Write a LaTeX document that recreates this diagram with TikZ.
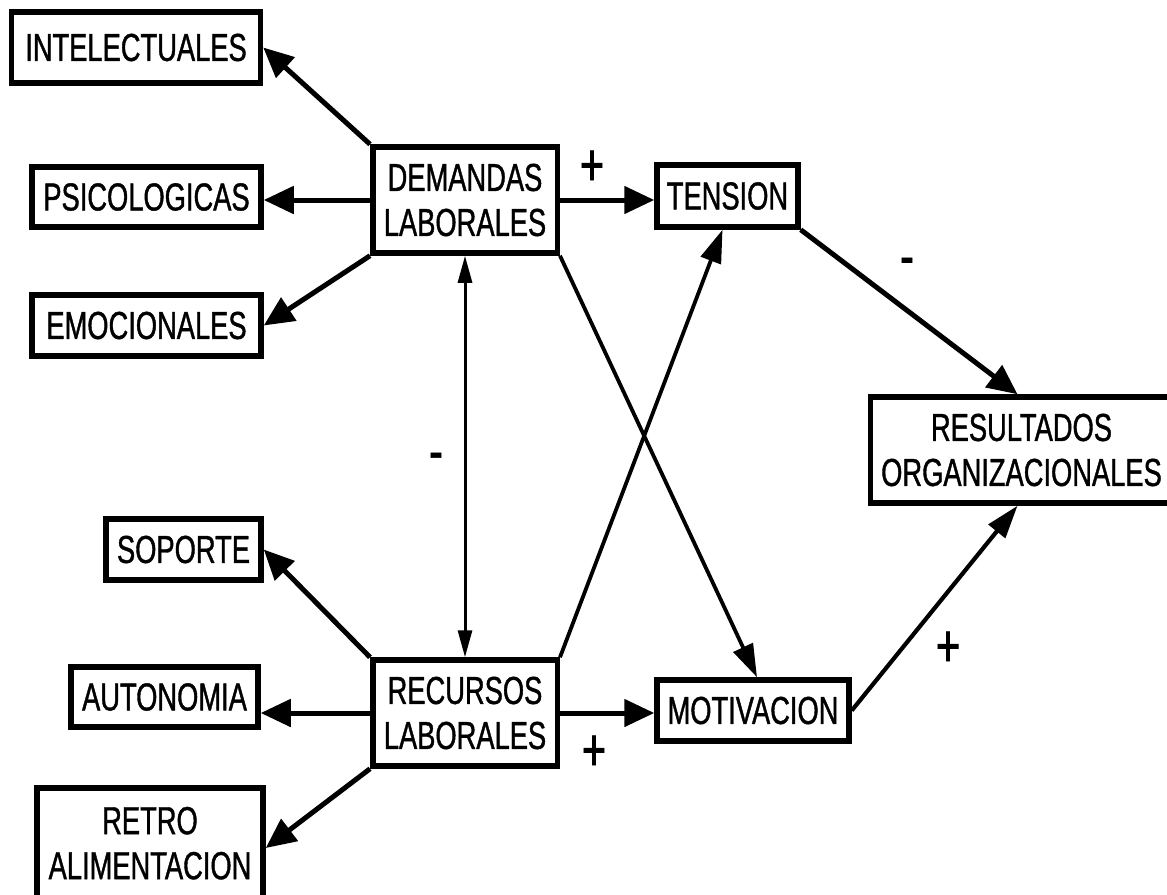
\documentclass[tikz,border=0pt]{standalone}
\usepackage{fontspec}
\setmainfont{Liberation Sans}[FakeStretch=0.70,FakeBold=1]
\usetikzlibrary{arrows.meta}
\begin{document}
\begin{tikzpicture}[x=1pt,y=-1pt,
  box/.style={draw,line width=5.5pt,inner sep=0pt,align=center,font=\fontsize{39}{45}\selectfont},
  big/.style={line width=5pt,-{Triangle[length=30pt,width=27pt]}},
  mid/.style={line width=3.8pt,-{Triangle[length=33pt,width=21pt]}},
  dbl/.style={line width=3pt,{Triangle[length=27pt,width=14pt]}-{Triangle[length=27pt,width=14pt]}},
  sign/.style={inner sep=0pt,font=\fontsize{60}{60}\selectfont}]
\path[use as bounding box] (0,0) rectangle (1167,894);
\clip (0,0) rectangle (1167,894);
% boxes
\node[box,minimum width=249pt,minimum height=71pt] (int) at (136,47.5) {INTELECTUALES};
\node[box,minimum width=229pt,minimum height=60pt] (psi) at (146.5,197) {PSICOLOGICAS};
\node[box,minimum width=229pt,minimum height=61pt] (emo) at (146.5,325.5) {EMOCIONALES};
\node[box,minimum width=184.5pt,minimum height=106pt] (dem) at (465,200) {DEMANDAS\\LABORALES};
\node[box,minimum width=141pt,minimum height=62pt] (ten) at (727.5,196) {TENSION};
\node[box,minimum width=302pt,minimum height=106pt] (res) at (1021.5,450) {RESULTADOS\\ORGANIZACIONALES};
\node[box,minimum width=155pt,minimum height=61pt] (sop) at (183.5,549.5) {SOPORTE};
\node[box,minimum width=187pt,minimum height=60pt] (aut) at (164.5,697) {AUTONOMIA};
\node[box,minimum width=184.5pt,minimum height=106pt] (rec) at (465,713) {RECURSOS\\LABORALES};
\node[box,minimum width=192pt,minimum height=61pt] (mot) at (753,710.5) {MOTIVACION};
\node[box,minimum width=226pt,minimum height=120pt,text depth=10pt] (ret) at (150,848) {RETRO\\ALIMENTACION};
% connectors
\draw[big] (dem.north west) -- (int.east);
\draw[big] (dem.west) -- (dem.west -| psi.east);
\draw[big] (dem.south west) -- (emo.east);
\draw[big] (dem.east) -- (dem.east -| ten.west);
\draw[dbl] (dem.south) -- (rec.north);
\draw[mid] (dem.south east) -- ([xshift=4pt]mot.north);
\draw[mid] (rec.north east) -- ([xshift=-5pt]ten.south);
\draw[big] (ten.south east) -- ([xshift=-4pt]res.north);
\draw[mid,line width=4.2pt] (mot.east) -- ([xshift=-4pt]res.south);
\draw[big] (rec.north west) -- (sop.east);
\draw[big] (rec.west) -- (rec.west -| aut.east);
\draw[big] (rec.south west) -- (ret.east);
\draw[big] (rec.east) -- (rec.east -| mot.west);
% signs
\node[sign] (s1) at (592,168) {+};
\node[sign] (s2) at (907,267) {-};
\node[sign] (s3) at (436,462) {-};
\node[sign] (s4) at (594,753) {+};
\node[sign] (s5) at (948,649) {+};
\end{tikzpicture}
\end{document}
